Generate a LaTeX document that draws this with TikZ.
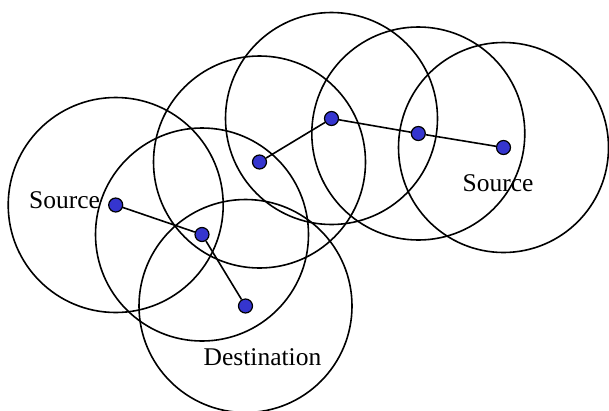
\documentclass[tikz,border=0pt]{standalone}
\usepackage{fontspec}
\setmainfont{Liberation Serif}
\definecolor{dotblue}{HTML}{3535CF}
\begin{document}
\begin{tikzpicture}[x=1pt,y=-1pt,
  coverage/.style={draw=black,line width=1.6pt},
  hop/.style={draw=black,line width=1.6pt},
  station/.style={circle,draw=black,line width=1.2pt,fill=dotblue,minimum size=14pt,inner sep=0pt},
  caption/.style={font=\fontsize{25.5}{28}\selectfont,inner sep=0pt,anchor=base}]
\useasboundingbox (0,0) rectangle (609,410);
\fill[white] (0,0) rectangle (609,410);

% station positions
\coordinate (p1) at (115.7,205);
\coordinate (p2) at (202,234.5);
\coordinate (p3) at (245.5,306);
\coordinate (p4) at (259.5,162);
\coordinate (p5) at (331.5,118.5);
\coordinate (p6) at (418.3,133.5);
\coordinate (p7) at (503.5,147.5);

% transmission ranges
\draw[coverage] (p1) circle[radius=107.5];
\draw[coverage] (p2) circle[radius=106.5];
\draw[coverage] (p3) circle[radius=106.5];
\draw[coverage] (p4) circle[radius=106];
\draw[coverage] (p5) circle[radius=106];
\draw[coverage] (p6) circle[radius=106.5];
\draw[coverage] (p7) circle[radius=105];

% stations
\node[station] (n1) at (p1) {};
\node[station] (n2) at (p2) {};
\node[station] (n3) at (p3) {};
\node[station] (n4) at (p4) {};
\node[station] (n5) at (p5) {};
\node[station] (n6) at (p6) {};
\node[station] (n7) at (p7) {};

% hops
\draw[hop] (n1) -- (n2);
\draw[hop] (n2) -- (n3);
\draw[hop] (n4) -- (n5);
\draw[hop] (n5) -- (n6);
\draw[hop] (n6) -- (n7);

% labels
\node[caption] (srcL) at (64.5,208) {Source};
\node[caption] (srcR) at (498,191.5) {Source};
\node[caption] (dst) at (262.5,365) {Destination};
\end{tikzpicture}
\end{document}
